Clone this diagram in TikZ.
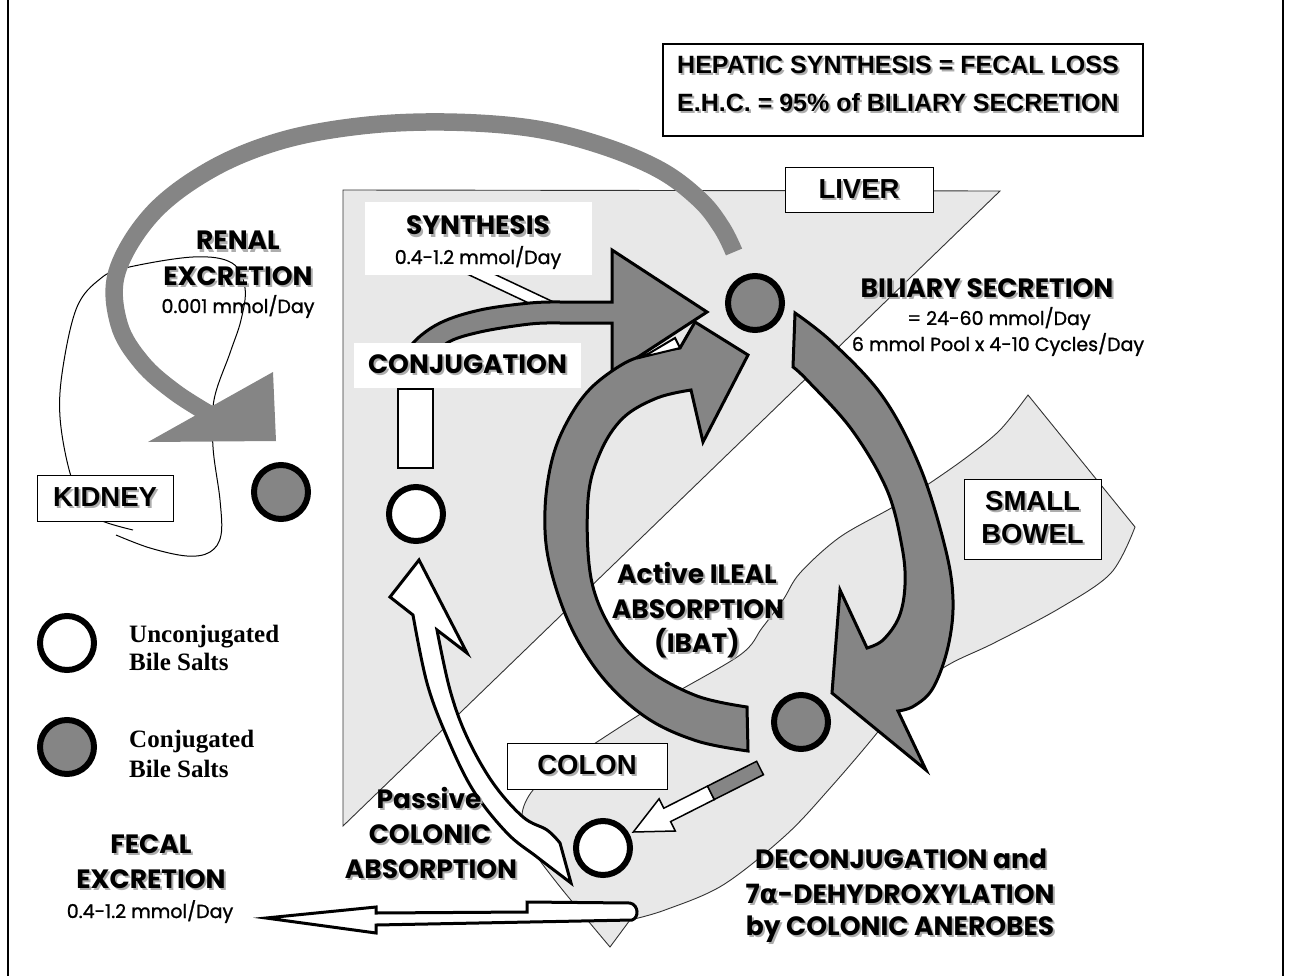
\documentclass[tikz,border=0pt]{standalone}
\usepackage{fontspec}
\setmainfont{Liberation Serif}
\newfontfamily\comicf{Poppins}
\newfontfamily\comicm{Poppins}[FakeBold=1.2]
\newfontfamily\arialf{Liberation Sans}
\newfontfamily\dejavuf{DejaVu Sans}
\newcommand\shd[1]{\leavevmode\rlap{\kern2pt\raisebox{-2pt}{\textcolor{black!32}{#1}}}#1}
\begin{document}
\begin{tikzpicture}[x=1pt, y=-1pt,
  bigarrow/.style={fill=black!48, draw=black, line width=3pt, line join=miter, miter limit=20},
  whitearrow/.style={fill=white, draw=black, line width=3pt, line join=miter, miter limit=20},
  organ/.style={fill=black!9, draw=black!80, line width=0.9pt},
  ring/.style={circle, draw=black, line width=6pt, minimum size=54pt, inner sep=0pt},
  lbox/.style={draw=black, fill=white, line width=1pt, inner sep=0pt, font=\arialf\bfseries\fontsize{27.5}{33}\selectfont},
  wbox/.style={fill=white, inner sep=0pt},
  comicb/.style={anchor=base, inner sep=0pt, font=\comicf\bfseries\fontsize{26.5}{30}\selectfont},
  comics/.style={anchor=base, inner sep=0pt, font=\comicm\fontsize{19}{22}\selectfont},
  topt/.style={anchor=base west, inner sep=0pt, font=\arialf\bfseries\fontsize{25}{30}\selectfont},
  legt/.style={anchor=base west, inner sep=0pt, font=\bfseries\fontsize{25}{28}\selectfont},
]
\useasboundingbox (0,0) rectangle (1289,976);
% frame lines
\draw[line width=2pt] (8,0) -- (8,976);
\draw[line width=2pt] (1283,0) -- (1283,976);
% liver
\draw[organ] (343,190) -- (1000,191) -- (343,826) -- cycle;
% small bowel / colon
\draw[organ] (1028,395) -- (1135,527) -- plot[smooth, tension=0.55] coordinates {(1135,527) (1111,573) (1060,608) (994,643) (948,665) (905,695) (877,733) (831,787) (786,835) (723,885) (665,910) (630,920)} -- (610,947) -- plot[smooth, tension=0.55] coordinates {(610,947) (557,883) (530,845) (522,815) (533,790) (560,768) (597,742) (663,700) (740,655) (762,628) (783,600) (800,573) (840,537) (893,507) (930,483) (967,457) (1000,430) (1028,395)} -- cycle;
% kidney
\draw[line width=1pt] plot[smooth, tension=0.6] coordinates {(116,535) (150,548) (187,556) (210,552) (221,535) (220,500) (213,447) (214,400) (230,353) (241,320) (245,288) (232,263) (193,257) (125,268) (100,279) (77,307) (63,367) (60,417) (70,473) (85,505) (100,520) (133,530)};
% renal excretion arc
\draw[line width=17.5pt, draw=black!48] plot[smooth, tension=0.6] coordinates {(734,252) (722,228) (700,200) (660,170) (600,145) (530,128) (444,122) (360,126) (280,141) (210,170) (152,214) (117,272) (119,324) (142,363) (176,393) (216,418)};
\fill[black!48] (148,442) -- (273,372) -- (276,441) -- cycle;
% synthesis inflow
\draw[fill=white, line width=1.5pt] (448,265) -- (475,265) -- (562,306) -- (535,306) -- cycle;
% conjugation arrow
\draw[bigarrow] (405,362) -- plot[smooth, tension=0.6] coordinates {(405,362) (413,343) (440,323) (480,310) (530,303) (560,302)} -- (612,302) -- (612,250) -- (707,312) -- (612,374) -- (612,323) -- (560,323) -- plot[smooth, tension=0.6] coordinates {(560,323) (530,324) (480,332) (447,343) (432,362)} -- cycle;
\node[wbox, minimum width=227pt, minimum height=73pt] (synbox) at (478.5,238.5) {};
\node[wbox, minimum width=227pt, minimum height=45pt, font=\comicf\bfseries\fontsize{26.5}{30}\selectfont] (conj) at (467.5,365.5) {\shd{CONJUGATION}};
\draw[fill=white, line width=2pt] (398,389) rectangle (433,468);
% ileal absorption arrow
\draw[bigarrow] (748,751) -- plot[smooth, tension=0.6] coordinates {(748,751) (697,741) (647,718) (603,678) (570,625) (549,562) (545,510) (552,460) (567,422) (590,389) (623,364) (650,354) (680,348)} -- (695,322) -- (748,355) -- (703,442) -- (691,390) -- plot[smooth, tension=0.6] coordinates {(691,390) (657,398) (623,418) (600,453) (588,500) (591,578) (613,632) (647,669) (697,696) (747,707)} -- cycle;
\draw[fill=white, line width=2pt, line join=miter] (643,357) -- (675,338) -- (680,348) -- cycle;
% biliary secretion arrow
\draw[bigarrow] (795,313) -- plot[smooth, tension=0.6] coordinates {(795,313) (833,343) (883,397) (920,467) (945,547) (953,600) (948,647) (933,688) (914,706) (898,711)} -- (926,770) -- (832,693) -- (840,590) -- (867,648) -- plot[smooth, tension=0.6] coordinates {(867,648) (883,640) (899,617) (905,585) (902,547) (887,490) (852,430) (808,381) (793,367)} -- cycle;
% bile salt circles
\node[ring, fill=black!48] (cliver) at (755,303) {};
\node[ring, fill=black!48] (cbowel) at (801,722) {};
\node[ring, fill=black!48] (ckidney) at (281,492) {};
\node[ring, fill=white] (uliver) at (416,514) {};
\node[ring, fill=white] (ucolon) at (603,848) {};
% deconjugation arrow
\draw[fill=white, line width=1.5pt, line join=miter] (707.5,786.1) -- (663.8,808.2) -- (659.1,798.8) -- (633.3,832.0) -- (675.3,831.0) -- (670.6,821.6) -- (714.3,799.5) -- cycle;
\draw[fill=black!48, line width=1.5pt] (756.6,761.3) -- (707.5,786.1) -- (714.3,799.5) -- (763.4,774.7) -- cycle;
% passive colonic absorption arrow
\draw[whitearrow] (560,843) -- plot[smooth, tension=0.6] coordinates {(560,843) (547,830) (523,817) (493,783) (467,737) (450,690) (437,630)} -- (467,653) -- (419,560) -- (390,597) -- (413,615) -- plot[smooth, tension=0.6] coordinates {(413,615) (427,683) (447,737) (473,790) (507,833) (537,857) (571,883)} -- cycle;
% fecal excretion arrow
\draw[whitearrow] (266,918) -- (376,907) -- (376,913) -- (527,912) -- (527,902) -- (630,903) .. controls (639,905) and (639,918) .. (632,920) -- (376,925) -- (376,933) -- cycle;
% label boxes
\node[lbox, line width=2pt, minimum width=480pt, minimum height=92pt] (topbox) at (903,90) {};
\node[topt] (top1) at (677,74) {\shd{HEPATIC SYNTHESIS = FECAL LOSS}};
\node[topt] (top2) at (677,112) {\shd{E.H.C. = 95\% of BILIARY SECRETION}};
\node[lbox, minimum width=148pt, minimum height=45pt] (liver) at (859,190.5) {\shd{LIVER}};
\node[lbox, minimum width=136pt, minimum height=46pt] (kidney) at (105,498) {\shd{KIDNEY}};
\node[lbox, minimum width=160pt, minimum height=46pt] (colon) at (587,766) {\shd{COLON}};
\node[lbox, minimum width=137pt, minimum height=80pt, align=center] (bowel) at (1032.5,519) {\shd{SMALL}\\\shd{BOWEL}};
% texts
\node[comicb] (ren1) at (238,250) {\shd{RENAL}};
\node[comicb] (ren2) at (238,285) {\shd{EXCRETION}};
\node[comics] (ren3) at (238,313) {0.001 mmol/Day};
\node[comicb] (syn1) at (478,235) {\shd{SYNTHESIS}};
\node[comics] (syn2) at (478,264) {0.4-1.2 mmol/Day};
\node[comicb] (bil1) at (987,297) {\shd{BILIARY SECRETION}};
\node[comics] (bil2) at (999,325) {= 24-60 mmol/Day};
\node[comics] (bil3) at (998,351) {6 mmol Pool x 4-10 Cycles/Day};
\node[comicb] (ile1) at (697,583) {\shd{Active ILEAL}};
\node[comicb] (ile2) at (698,618) {\shd{ABSORPTION}};
\node[comicb] (ile3) at (697,652) {\shd{(IBAT)}};
\node[comicb] (pas1) at (429,808) {\shd{Passive}};
\node[comicb] (pas2) at (430,843) {\shd{COLONIC}};
\node[comicb] (pas3) at (431,878) {\shd{ABSORPTION}};
\node[comicb] (fec1) at (151,853) {\shd{FECAL}};
\node[comicb] (fec2) at (151,888) {\shd{EXCRETION}};
\node[comics] (fec3) at (150,918) {0.4-1.2 mmol/Day};
\node[comicb] (dec1) at (901,868) {\shd{DECONJUGATION and}};
\node[comicb] (dec2) at (900,903) {\shd{7{\dejavuf α}-DEHYDROXYLATION}};
\node[comicb] (dec3) at (900,935) {\shd{by COLONIC ANEROBES}};
% legend
\node[ring, fill=white] (legu) at (67,643) {};
\node[ring, fill=black!48] (legc) at (67,747) {};
\node[legt] (legu1) at (129,642) {Unconjugated};
\node[legt] (legu2) at (129,670) {Bile Salts};
\node[legt] (legc1) at (129,747) {Conjugated};
\node[legt] (legc2) at (129,777) {Bile Salts};
\end{tikzpicture}
\end{document}
